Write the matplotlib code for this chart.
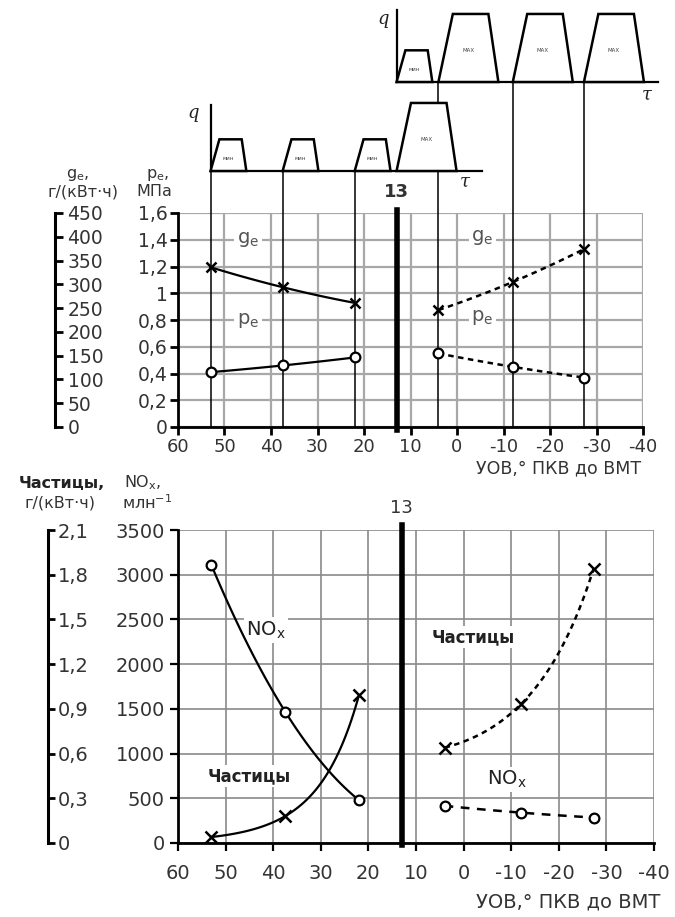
import numpy as np
import matplotlib
matplotlib.use('Agg')
import matplotlib.pyplot as plt
from matplotlib.patches import Polygon
from matplotlib.ticker import FuncFormatter
from matplotlib import transforms

plt.rcParams['axes.unicode_minus'] = False

# --- data ---
uov_pilot = [53.0, 37.5, 22.0]      # УОВ, left series (solid)
uov_main = [4.0, -12.0, -27.3]      # УОВ, right series (dashed)
uov_split = 13                       # thick line "13"

ge_left = [336, 294, 261]            # g_e, г/(кВт·ч)
ge_right = [246, 305, 374]
pe_left = [0.41, 0.46, 0.52]         # p_e, МПа
pe_right = [0.55, 0.45, 0.37]

nox_left = [3110, 1470, 480]         # NOx, млн^-1
nox_right = [415, 340, 285]
pm_left = [0.04, 0.18, 0.99]         # Частицы, г/(кВт·ч)
pm_right = [0.64, 0.93, 1.84]

# injection schemes for the two q-tau insets
lower_starts = [53.0, 37.5, 22.0, 13.0]
lower_kinds = ['мин', 'мин', 'мин', 'MAX']
upper_starts = [13.0, 4.0, -12.0, -27.3]
upper_kinds = ['мин', 'MAX', 'MAX', 'MAX']

x_ticks = list(range(-40, 61, 10))
pe_ticks = np.arange(0, 1.61, 0.2)
ge_ticks = np.arange(0, 451, 50)
nox_ticks = np.arange(0, 3501, 500)
pm_ticks = np.arange(0, 2.11, 0.3)

W, H = 675, 917
TXT = '#333333'


def rect(l, t, r, b):
    return [l / W, 1 - b / H, (r - l) / W, (b - t) / H]


def comma(v, pos=None):
    return f'{round(v, 2):g}'.replace('.', ',')


def smooth(x, y, log=False):
    xs = np.linspace(x[0], x[-1], 80)
    yy = np.log(y) if log else np.asarray(y, float)
    ys = np.polyval(np.polyfit(x, yy, 2), xs)
    return xs, (np.exp(ys) if log else ys)


fig = plt.figure(figsize=(W / 100, H / 100), dpi=100)

# ================= upper chart: g_e, p_e =================
ax1 = fig.add_axes(rect(178, 213, 643, 427))
ax1.set_xlim(60, -40)
ax1.set_ylim(0, 1.6)
ax1.set_xticks(x_ticks)
ax1.set_yticks(pe_ticks)
ax1.yaxis.set_major_formatter(FuncFormatter(comma))
ax1.grid(True, color='#a8a8a8', lw=1.6, zorder=0)
ax1.set_axisbelow(True)
for s in ['top', 'right']:
    ax1.spines[s].set_visible(False)
for s in ['left', 'bottom']:
    ax1.spines[s].set_linewidth(2)
ax1.tick_params(direction='out', length=6, width=2, labelsize=13, labelcolor=TXT)
ax1.tick_params(axis='y', pad=1.5, labelsize=13.5)
ax1.tick_params(axis='x', pad=2)

# connector lines to the insets
blend = transforms.blended_transform_factory(ax1.transData, fig.transFigure)
y_ax = 1 - 427 / H
for x in uov_pilot:
    ax1.plot([x, x], [y_ax, 1 - 171 / H], color='k', lw=1.1, transform=blend,
             clip_on=False, zorder=3)
for x in uov_main:
    ax1.plot([x, x], [y_ax, 1 - 82 / H], color='k', lw=1.1, transform=blend,
             clip_on=False, zorder=3)

ax1.axvline(uov_split, ymin=-0.014, ymax=1.014, color='k', lw=4, clip_on=False, zorder=4)
ax1.text(uov_split, 1.1, '13', transform=transforms.blended_transform_factory(ax1.transData, ax1.transAxes),
         ha='center', va='center', fontsize=13, fontweight='bold', color=TXT)

xs, ys = smooth(uov_pilot, pe_left)
ax1.plot(xs, ys, color='k', lw=1.6, zorder=5)
ax1.plot(uov_pilot, pe_left, 'o', ms=7, mfc='white', mec='k', mew=1.6, zorder=6)
xs, ys = smooth(uov_main, pe_right)
ax1.plot(xs, ys, color='k', lw=1.8, dashes=(2.2, 1.8), zorder=5)
ax1.plot(uov_main, pe_right, 'o', ms=7, mfc='white', mec='k', mew=1.6, zorder=6)

lab = dict(fontsize=14, color='#555555', ha='center', va='center', zorder=2,
           bbox=dict(fc='white', ec='none', pad=2))
ax1.text(45, 1.4, 'g$_\\mathregular{e}$', **lab)
ax1.text(45, 0.8, 'p$_\\mathregular{e}$', **lab)
ax1.text(-5.5, 1.42, 'g$_\\mathregular{e}$', **lab)
ax1.text(-5.5, 0.82, 'p$_\\mathregular{e}$', **lab)

ax1.text(0.995, -0.195, 'УОВ,° ПКВ до ВМТ', transform=ax1.transAxes, ha='right',
         va='center', fontsize=12.5, color=TXT)

# g_e axis (separate bracket on the far left)
ax1g = ax1.twinx()
ax1g.set_ylim(0, 450)
ax1g.set_yticks(ge_ticks)
for s in ['top', 'left', 'bottom']:
    ax1g.spines[s].set_visible(False)
ax1g.spines['right'].set_position(('axes', (55 - 178) / 465))
ax1g.spines['right'].set_linewidth(2.2)
ax1g.tick_params(direction='out', length=6, width=2, labelsize=13.5, labelcolor=TXT, pad=3)
xs, ys = smooth(uov_pilot, ge_left)
ax1g.plot(xs, ys, color='k', lw=1.6, zorder=5)
ax1g.plot(uov_pilot, ge_left, 'x', ms=7, mec='k', mew=1.8, zorder=6)
xs, ys = smooth(uov_main, ge_right)
ax1g.plot(xs, ys, color='k', lw=1.8, dashes=(2.2, 1.8), zorder=5)
ax1g.plot(uov_main, ge_right, 'x', ms=7, mec='k', mew=1.8, zorder=6)

hdr = dict(ha='center', va='center', fontsize=11.5, color=TXT)
fig.text(78 / W, 1 - 175 / H, 'g$_\\mathregular{e}$,', **hdr)
fig.text(83 / W, 1 - 192 / H, 'г/(кВт·ч)', **hdr)
fig.text(158 / W, 1 - 175 / H, 'p$_\\mathregular{e}$,', **hdr)
fig.text(154 / W, 1 - 192 / H, 'МПа', **hdr)

# ================= insets q(tau) =================
SHAPES = {'мин': (7.7, 1.9, 6.7, 0.44, 0.17), 'MAX': (12.9, 3.1, 10.75, 0.945, 0.44)}


def draw_inset(box, starts, kinds, axis_top, end_x, q_xy, tau_xy):
    ax = fig.add_axes(rect(*box))
    ax.set_xlim(60, -40)
    ax.set_ylim(0, 1)
    ax.axis('off')
    x0 = starts[0]
    ax.plot([x0, x0], [0, axis_top], color='k', lw=1.6, clip_on=False)
    ax.plot([x0, end_x], [0, 0], color='k', lw=1.6, clip_on=False)
    for st, kind in zip(starts, kinds):
        w, t1, t2, h, ty = SHAPES[kind]
        ax.add_patch(Polygon([[st, 0], [st - t1, h], [st - t2, h], [st - w, 0]],
                             closed=True, fc='white', ec='k', lw=1.8, clip_on=False, zorder=3))
        ax.text(st - w / 2, ty, kind, ha='center', va='center', fontsize=4, color='#444444', zorder=4)
    ax.text(*q_xy, 'q', ha='center', va='center', fontsize=13, style='italic',
            family='DejaVu Serif', color='#222222')
    ax.text(*tau_xy, 'τ', ha='center', va='center', fontsize=13, style='italic',
            family='DejaVu Serif', color='#222222')


draw_inset((178, 99, 643, 171), lower_starts, lower_kinds, 0.92, -5.4, (56.8, 0.8), (-1.7, -0.15))
draw_inset((178, 10, 643, 82), upper_starts, upper_kinds, 1.0, -43.2, (15.9, 0.88), (-40.9, -0.18))

# ================= lower chart: NOx, particles =================
ax2 = fig.add_axes(rect(178, 530, 654, 843))
ax2.set_xlim(60, -40)
ax2.set_ylim(0, 3500)
ax2.set_xticks(x_ticks)
ax2.set_yticks(nox_ticks)
ax2.grid(True, color='#8a8a8a', lw=1.2, zorder=0)
ax2.set_axisbelow(True)
for s in ['top', 'right']:
    ax2.spines[s].set_visible(False)
for s in ['left', 'bottom']:
    ax2.spines[s].set_linewidth(2)
ax2.tick_params(direction='out', length=6, width=1.6, labelsize=14, labelcolor=TXT)
ax2.tick_params(axis='y', pad=3.5)
ax2.tick_params(axis='x', pad=9)

ax2.axvline(uov_split, ymin=-0.006, ymax=1.016, color='k', lw=4, clip_on=False, zorder=4)
ax2.text(uov_split, 1.07, '13', transform=transforms.blended_transform_factory(ax2.transData, ax2.transAxes),
         ha='center', va='center', fontsize=13, color=TXT)

xs, ys = smooth(uov_pilot, nox_left)
ax2.plot(xs, ys, color='k', lw=1.6, zorder=5)
ax2.plot(uov_pilot, nox_left, 'o', ms=7, mfc='white', mec='k', mew=1.6, zorder=6)
xs, ys = smooth(uov_main, nox_right)
ax2.plot(xs, ys, color='k', lw=1.8, dashes=(3.5, 3), zorder=5)
ax2.plot(uov_main, nox_right, 'o', ms=7, mfc='white', mec='k', mew=1.6, zorder=6)

lab2 = dict(color='#222222', ha='center', va='center', zorder=2,
            bbox=dict(fc='white', ec='none', pad=1.5))
ax2.text(41.5, 2380, 'NO$_\\mathregular{x}$', fontsize=14, **lab2)
ax2.text(45, 750, 'Частицы', fontsize=12, fontweight='bold', **lab2)
ax2.text(-2, 2300, 'Частицы', fontsize=12, fontweight='bold', **lab2)
ax2.text(-9, 710, 'NO$_\\mathregular{x}$', fontsize=14, **lab2)

ax2.text(1.013, -0.19, 'УОВ,° ПКВ до ВМТ', transform=ax2.transAxes, ha='right',
         va='center', fontsize=14, color=TXT)

ax2p = ax2.twinx()
ax2p.set_ylim(0, 2.1)
ax2p.set_yticks(pm_ticks)
ax2p.yaxis.set_major_formatter(FuncFormatter(comma))
for s in ['top', 'left', 'bottom']:
    ax2p.spines[s].set_visible(False)
ax2p.spines['right'].set_position(('axes', (48 - 178) / 476))
ax2p.spines['right'].set_linewidth(2.2)
ax2p.tick_params(direction='out', length=5, width=2, labelsize=14, labelcolor=TXT, pad=2)
xs, ys = smooth(uov_pilot, pm_left, log=True)
ax2p.plot(xs, ys, color='k', lw=1.6, zorder=5)
ax2p.plot(uov_pilot, pm_left, 'x', ms=8, mec='k', mew=1.8, zorder=6)
xs, ys = smooth(uov_main, pm_right, log=True)
ax2p.plot(xs, ys, color='k', lw=1.8, dashes=(2.2, 1.8), zorder=5)
ax2p.plot(uov_main, pm_right, 'x', ms=8, mec='k', mew=1.8, zorder=6)

hdr2 = dict(ha='center', va='center', fontsize=11.5)
fig.text(62 / W, 1 - 484 / H, 'Частицы,', fontweight='bold', color='#222222', **hdr2)
fig.text(143 / W, 1 - 483 / H, 'NO$_\\mathregular{x}$,', color=TXT, **hdr2)
fig.text(60 / W, 1 - 503 / H, 'г/(кВт·ч)', color=TXT, **hdr2)
fig.text(147 / W, 1 - 503 / H, 'млн$^{\\mathregular{-1}}$', color=TXT, **hdr2)

fig.savefig('out.png', dpi=100)
